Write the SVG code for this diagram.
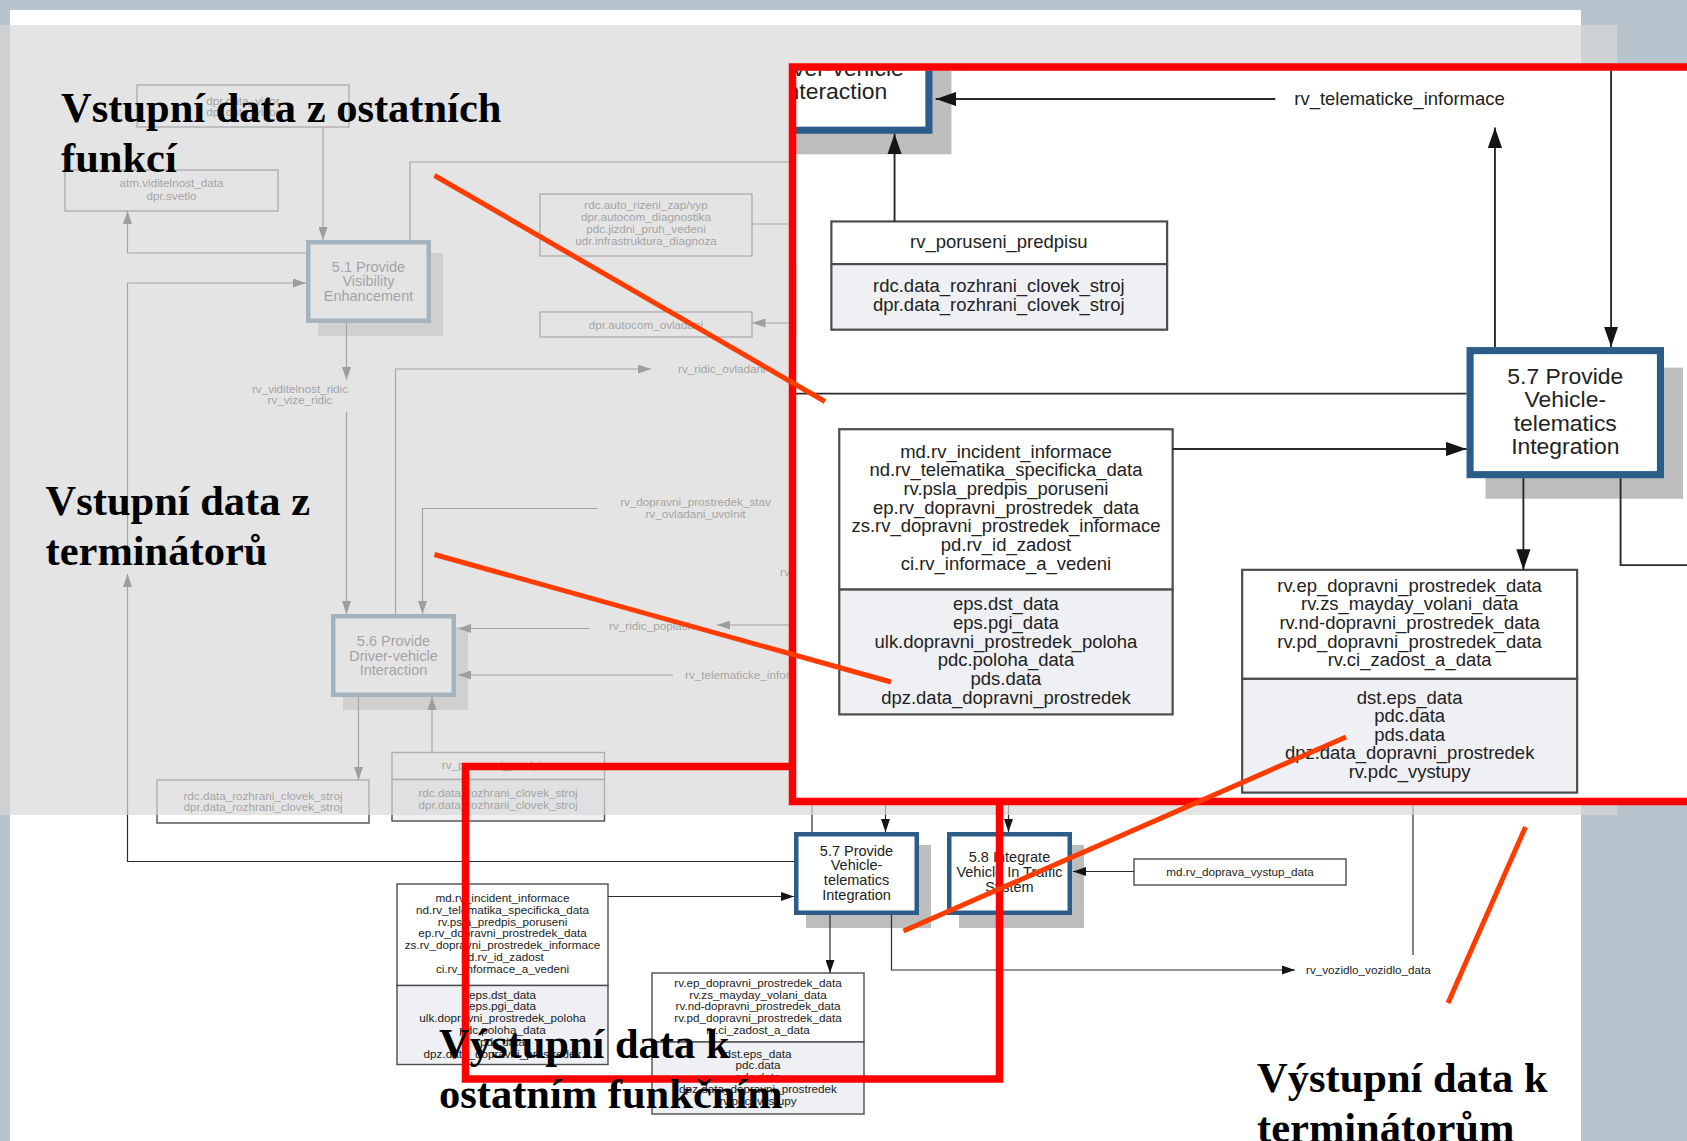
<svg xmlns="http://www.w3.org/2000/svg" width="1687" height="1141" viewBox="0 0 1687 1141">
<style>
  .t { font-family: "Liberation Sans", Arial, sans-serif; font-size: 11.7px; fill: #222; }
  .c { text-anchor: middle; }
  .nt { font-family: "Liberation Sans", Arial, sans-serif; font-size: 14.5px; fill: #222; text-anchor: middle; }
  .store { fill: #ffffff; stroke: #4d4d4d; stroke-width: 1.4; }
  .lower { fill: #eff0f3; stroke: #4d4d4d; stroke-width: 1.4; }
  .frame { fill: #ffffff; stroke: #2b5d88; stroke-width: 4.5; }
  .shadow { fill: #bdbdbd; }
  .wire { fill: none; stroke: #2a2a2a; stroke-width: 1.2; }
  .arrow { marker-end: url(#head); }
  .mark { fill: none; stroke: #ff0000; stroke-width: 7.5; }
  .pointer { stroke: #ff3c00; stroke-width: 5; }
  .title { font-family: "Liberation Serif", "Times New Roman", serif; font-weight: bold; font-size: 42.5px; fill: #000; }
</style>
<defs>
  <marker id="head" markerUnits="userSpaceOnUse" markerWidth="13" markerHeight="9" refX="13" refY="4.5" orient="auto">
    <path d="M0,0 L13,4.5 L0,9 z" fill="#151515"/>
  </marker>
  <clipPath id="zoomClip">
    <rect x="796" y="70.5" width="900" height="727.5"/>
  </clipPath>

  <!-- the function-area data flow diagram, drawn once and reused -->
  <g id="diagram">
    <!-- data stores -->
    <g id="store-vystup">
      <rect class="store" x="137" y="85" width="212" height="42"/>
      <text class="t c" x="243" y="104.7">dpr.data_vizor</text>
      <text class="t c" x="243" y="116.3">dpr.data_vizor</text>
    </g>
    <g id="store-viditelnost">
      <rect class="store" x="65" y="170" width="213" height="41"/>
      <text class="t c" x="171.5" y="187.2">atm.viditelnost_data</text>
      <text class="t c" x="171.5" y="200.2">dpr.svetlo</text>
    </g>
    <g id="store-autocom">
      <rect class="store" x="540" y="194" width="212" height="62"/>
      <text class="t c" x="646" y="209.2">rdc.auto_rizeni_zap/vyp</text>
      <text class="t c" x="646" y="221">dpr.autocom_diagnostika</text>
      <text class="t c" x="646" y="232.8">pdc.jizdni_pruh_vedeni</text>
      <text class="t c" x="646" y="244.6">udr.infrastruktura_diagnoza</text>
    </g>
    <g id="store-ovladani">
      <rect class="store" x="540" y="312" width="212" height="25"/>
      <text class="t c" x="646" y="328.7">dpr.autocom_ovladani</text>
    </g>
    <g id="store-rozhrani">
      <rect class="store" x="157" y="780" width="212" height="43"/>
      <text class="t c" x="263" y="799.7">rdc.data_rozhrani_clovek_stroj</text>
      <text class="t c" x="263" y="811.3">dpr.data_rozhrani_clovek_stroj</text>
    </g>
    <g id="store-poruseni">
      <rect class="store" x="392" y="752.5" width="212.5" height="27"/>
      <rect class="lower" x="392" y="779.5" width="212.5" height="41.5"/>
      <text class="t c" x="498" y="769.4">rv_poruseni_predpisu</text>
      <text class="t c" x="498" y="797">rdc.data_rozhrani_clovek_stroj</text>
      <text class="t c" x="498" y="809.2">dpr.data_rozhrani_clovek_stroj</text>
    </g>
    <g id="store-incident">
      <rect class="store" x="397" y="884" width="211" height="101.5"/>
      <rect class="lower" x="397" y="985.5" width="211" height="79"/>
      <text class="t c" x="502.5" y="902">md.rv_incident_informace</text>
      <text class="t c" x="502.5" y="913.8">nd.rv_telematika_specificka_data</text>
      <text class="t c" x="502.5" y="925.6">rv.psla_predpis_poruseni</text>
      <text class="t c" x="502.5" y="937.4">ep.rv_dopravni_prostredek_data</text>
      <text class="t c" x="502.5" y="949.2">zs.rv_dopravni_prostredek_informace</text>
      <text class="t c" x="502.5" y="961">pd.rv_id_zadost</text>
      <text class="t c" x="502.5" y="972.8">ci.rv_informace_a_vedeni</text>
      <text class="t c" x="502.5" y="998.6">eps.dst_data</text>
      <text class="t c" x="502.5" y="1010.4">eps.pgi_data</text>
      <text class="t c" x="502.5" y="1022.2">ulk.dopravni_prostredek_poloha</text>
      <text class="t c" x="502.5" y="1034">pdc.poloha_data</text>
      <text class="t c" x="502.5" y="1045.8">pds.data</text>
      <text class="t c" x="502.5" y="1057.6">dpz.data_dopravni_prostredek</text>
    </g>
    <g id="store-mayday">
      <rect class="store" x="652" y="973" width="212" height="69"/>
      <rect class="lower" x="652" y="1042" width="212" height="72"/>
      <text class="t c" x="758" y="986.8">rv.ep_dopravni_prostredek_data</text>
      <text class="t c" x="758" y="998.6">rv.zs_mayday_volani_data</text>
      <text class="t c" x="758" y="1010.4">rv.nd-dopravni_prostredek_data</text>
      <text class="t c" x="758" y="1022.2">rv.pd_dopravni_prostredek_data</text>
      <text class="t c" x="758" y="1034">rv.ci_zadost_a_data</text>
      <text class="t c" x="758" y="1057.6">dst.eps_data</text>
      <text class="t c" x="758" y="1069.4">pdc.data</text>
      <text class="t c" x="758" y="1081.2">pds.data</text>
      <text class="t c" x="758" y="1093">dpz.data_dopravni_prostredek</text>
      <text class="t c" x="758" y="1104.8">rv.pdc_vystupy</text>
    </g>
    <g id="store-doprava">
      <rect class="store" x="1134" y="859" width="212" height="26"/>
      <text class="t c" x="1240" y="875.5">md.rv_doprava_vystup_data</text>
    </g>

    <!-- process nodes -->
    <g id="node-5-1">
      <rect class="shadow" x="318" y="253" width="125" height="83"/>
      <rect class="frame" x="308.25" y="242.25" width="120.5" height="78.5"/>
      <text class="nt" x="368.5" y="271.5">5.1 Provide</text>
      <text class="nt" x="368.5" y="286.2">Visibility</text>
      <text class="nt" x="368.5" y="300.9">Enhancement</text>
    </g>
    <g id="node-5-6">
      <rect class="shadow" x="343" y="627" width="125" height="83"/>
      <rect class="frame" x="333.25" y="616.25" width="120.5" height="78.5"/>
      <text class="nt" x="393.5" y="645.8">5.6 Provide</text>
      <text class="nt" x="393.5" y="660.5">Driver-vehicle</text>
      <text class="nt" x="393.5" y="675.2">Interaction</text>
    </g>
    <g id="node-5-7">
      <rect class="shadow" x="806" y="845" width="125" height="83"/>
      <rect class="frame" x="796.25" y="834.25" width="120.5" height="78.5"/>
      <text class="nt" x="856.5" y="855.5">5.7 Provide</text>
      <text class="nt" x="856.5" y="870.2">Vehicle-</text>
      <text class="nt" x="856.5" y="884.9">telematics</text>
      <text class="nt" x="856.5" y="899.6">Integration</text>
    </g>
    <g id="node-5-8">
      <rect class="shadow" x="959" y="845" width="125" height="83"/>
      <rect class="frame" x="949.25" y="834.25" width="120.5" height="78.5"/>
      <text class="nt" x="1009.5" y="862">5.8 Integrate</text>
      <text class="nt" x="1009.5" y="877">Vehicle In Traffic</text>
      <text class="nt" x="1009.5" y="892">System</text>
    </g>

    <!-- flow labels -->
    <g id="flow-labels">
      <text class="t c" x="300" y="392.5">rv_viditelnost_ridic</text>
      <text class="t c" x="300" y="404.3">rv_vize_ridic</text>
      <text class="t" x="678" y="373">rv_ridic_ovladani</text>
      <text class="t c" x="695.5" y="506.2">rv_dopravni_prostredek_stav</text>
      <text class="t c" x="695.5" y="517.8">rv_ovladani_uvolnit</text>
      <text class="t" x="780" y="576">rv</text>
      <text class="t" x="609" y="629.5">rv_ridic_poplach</text>
      <text class="t" x="685" y="679">rv_telematicke_informace</text>
      <text class="t" x="1306" y="974">rv_vozidlo_vozidlo_data</text>
    </g>

    <!-- connectors -->
    <g id="connectors">
      <path class="wire arrow" d="M323,127 V240"/>
      <path class="wire arrow" d="M306,253 H127.5 V211"/>
      <path class="wire arrow" d="M127.5,548 V283 H306"/>
      <path class="wire" d="M410,240 V162 H880"/>
      <path class="wire" d="M752,224 H880"/>
      <path class="wire arrow" d="M880,323 H752.5"/>
      <path class="wire arrow" d="M346.5,322.5 V380"/>
      <path class="wire arrow" d="M346.5,412 V614"/>
      <path class="wire arrow" d="M395.5,614 V369 H651"/>
      <path class="wire arrow" d="M598,508.5 H422.5 V614"/>
      <path class="wire arrow" d="M880,625 H717"/>
      <path class="wire arrow" d="M590,628.5 H458"/>
      <path class="wire arrow" d="M673,675 H458"/>
      <path class="wire arrow" d="M358.5,697 V780"/>
      <path class="wire arrow" d="M432,752.5 V697"/>
      <path class="wire arrow" d="M794,861.5 H127.5 V574"/>
      <path class="wire arrow" d="M608,896.5 H794"/>
      <path class="wire arrow" d="M812,832 V693"/>
      <path class="wire arrow" d="M885.5,600 V832"/>
      <path class="wire arrow" d="M830,915 V973"/>
      <path class="wire arrow" d="M891.5,915 V970 H1295"/>
      <path class="wire arrow" d="M1008.5,700 V832"/>
      <path class="wire arrow" d="M1134,871.5 H1073"/>
      <path class="wire" d="M1413,700 V955"/>
    </g>
  </g>
</defs>

<!-- slide background and page -->
<rect x="0" y="0" width="1687" height="1141" fill="#b8c4cd"/>
<rect x="10" y="10" width="1571" height="1131" fill="#ffffff"/>

<!-- full-size diagram -->
<use href="#diagram"/>

<!-- grey veil over the upper part -->
<rect x="0" y="25" width="1617" height="790" fill="#d8d8d8" fill-opacity="0.7"/>

<!-- highlight frame around the lower function outputs -->
<rect class="mark" x="465.5" y="766.5" width="534" height="312.5"/>

<!-- magnified detail of functions 5.6 and 5.7 -->
<g id="detail">
  <rect x="796" y="70.5" width="900" height="727.5" fill="#ffffff"/>
  <g clip-path="url(#zoomClip)">
    <use href="#diagram" transform="translate(212,-967.5) scale(1.58)"/>
  </g>
  <rect class="mark" x="792.5" y="67" width="1000" height="734.5"/>
</g>

<!-- pointer strokes -->
<g id="pointers">
  <line class="pointer" x1="434.5" y1="175.5" x2="825" y2="401.5"/>
  <line class="pointer" x1="434.5" y1="554.5" x2="891" y2="682"/>
  <line class="pointer" x1="903.5" y1="931" x2="1346" y2="737"/>
  <line class="pointer" x1="1525.5" y1="827" x2="1448" y2="1003"/>
</g>

<!-- captions -->
<g id="captions">
  <text class="title" x="61" y="121.5">Vstupní data z ostatních</text>
  <text class="title" x="61" y="171.5">funkcí</text>
  <text class="title" x="45.5" y="515">Vstupní data z</text>
  <text class="title" x="45.5" y="565">terminátorů</text>
  <text class="title" x="439" y="1058">Výstupní data k</text>
  <text class="title" x="439" y="1108">ostatním funkčním</text>
  <text class="title" x="1257" y="1092">Výstupní data k</text>
  <text class="title" x="1257" y="1142">terminátorům</text>
</g>
</svg>
